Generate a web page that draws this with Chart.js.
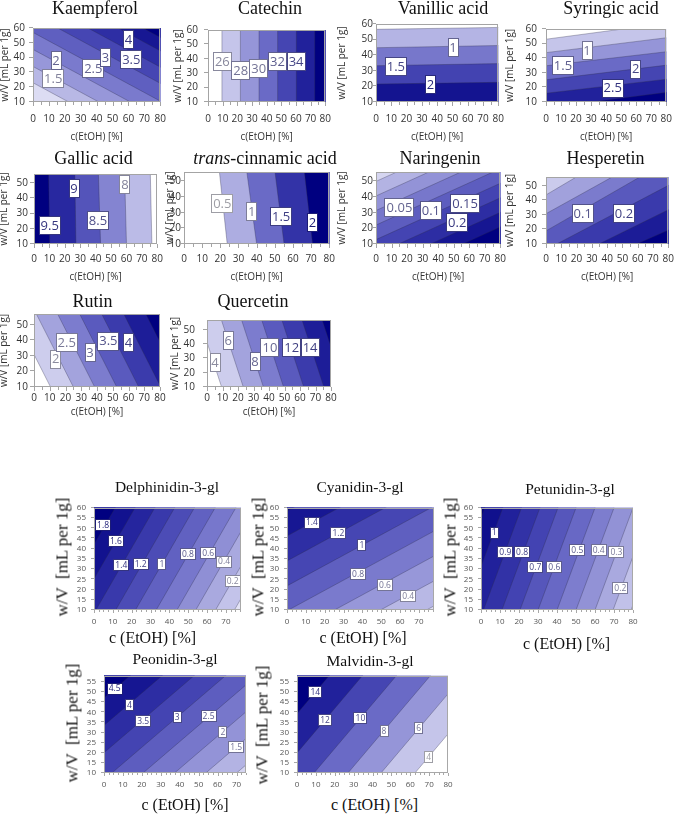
<!DOCTYPE html>
<html>
<head>
<meta charset="utf-8">
<title>Response surfaces - c(EtOH) vs w/V</title>
<script src="https://cdn.jsdelivr.net/npm/chart.js@4.4.1/dist/chart.umd.min.js"></script>
<style>
  body { margin: 0; background: #fff; }
  #page { position: relative; width: 677px; height: 814px; overflow: hidden; }
  canvas { position: absolute; }
  .ttl { position: absolute; transform: translate(-50%, -50%); font-family: "Liberation Serif", "Times New Roman", serif;
         color: #111; white-space: pre; line-height: 1; }
  .rot { transform: translate(-50%, -50%) rotate(-90deg); }
</style>
</head>
<body>
<div id="page"></div>
<script>
// Contours are straight segments [c1, w1, c2, w2] in data units (c(EtOH) %, w/V mL per 1g),
// listed from the light side of the map to the dark side. Labels: [text, c, w].

const KAEMPFEROL_LINES = [[0,23,80,-23.4],[0,34,80,-12.4],[0,45.5,80,-0.9],[0,57,80,10.6],[0,69,80,22.6],[0,80,80,33.6],[0,91,80,44.6],[0,100,80,53.6]];
const KAEMPFEROL_LABELS = [['1.5',12.7,26],['2',14.5,38],['2.5',37.9,32.4],['3',45.5,40],['3.5',61.8,38.8],['4',60,52.3]];

const CATECHIN_LINES = [[9.5,10,9.5,60],[22.1,10,22.1,60],[34.8,10,34.8,60],[47.5,10,47.5,60],[60.3,10,60.3,60],[72.8,10,72.8,60]];
const CATECHIN_LABELS = [['26',9.8,38.2],['28',22.3,31.8],['30',34.6,33.4],['32',47.4,38],['34',60.1,38]];

const VANILLIC_LINES = [[0,56.6,80,57.8],[0,44.8,80,46.2],[0,33.3,80,34.6],[0,21.5,80,22.6]];
const VANILLIC_LABELS = [['1',50.4,45],['1.5',13,32.6],['2',35.7,21]];

const SYRINGIC_LINES = [[0,53,80,64],[0,43.8,80,54],[0,34.8,80,44.4],[0,25.2,80,35.2],[0,16,80,25.6],[0,6,80,16.6]];
const SYRINGIC_LABELS = [['1',27.3,45.4],['1.5',11.3,34.8],['2',59.7,32.6],['2.5',44.4,19.4]];

const GALLIC_LINES = [[76.5,10,75.5,56],[60,10,58.8,56],[43.2,10,41.8,56],[27.2,10,26.5,56],[10.2,10,9.5,56]];
const GALLIC_LABELS = [['9.5',10.2,22.2],['9',26,46.6],['8.5',41.5,25.4],['8',59,49.2]];

const CINNAMIC_LINES = [[23.8,10,19.5,56],[40,10,34.6,56],[55.1,10,50.1,56],[70.8,10,66.3,56]];
const CINNAMIC_LABELS = [['0.5',21.1,35.7],['1',37.3,30.7],['1.5',53.5,27.6],['2',70.8,23.5]];

const NARINGENIN_LINES = [[0,50,80,86],[0,40.7,80,76.7],[0,31.4,80,67.4],[0,22.1,80,58.1],[0,12.8,80,48.8],[0,3.5,80,39.5],[0,-5.8,80,30.2],[0,-15.1,80,20.9]];
const NARINGENIN_LABELS = [['0.05',15.1,33.2],['0.1',35.3,31.4],['0.15',57.3,35.8],['0.2',52.3,23.5]];

const HESPERETIN_LINES = [[0,43.7,19.8,56],[0,30.8,43.3,56],[0,19,61.4,56],[7,10,80,50.2],[34.6,10,80,33.5],[59.3,10,80,19.5]];
const HESPERETIN_LABELS = [['0.1',24,30.8],['0.2',51,30.8]];

const RUTIN_LINES = [[-13,57,10.5,10],[1.5,57,25,10],[15,57,38.5,10],[29,57,52.5,10],[43,57,66.5,10],[57,57,80.5,10],[71,57,94.5,10]];
const RUTIN_LABELS = [['2',13.8,28],['2.5',20.8,38.5],['3',35.6,32],['3.5',47.2,39.6],['4',59.9,38.5]];

const QUERCETIN_LINES = [[-4.7,57,9.4,10],[9.3,57,23.4,10],[22.3,57,36.4,10],[35.3,57,49.4,10],[48.3,57,62.4,10],[61.3,57,75.4,10],[74.3,57,88.4,10]];
const QUERCETIN_LABELS = [['4',5.2,27],['6',13.7,42.7],['8',31,28],['10',40.6,37.5],['12',54.6,37.5],['14',66.5,37.5]];

const DELPHINIDIN_LINES = [[74.5,10,105.75,60],[64.5,10,95.75,60],[54,10,85.25,60],[44,10,75.25,60],[33,10,64.25,60],[22,10,53.25,60],[11.5,10,42.75,60],[1,10,32.25,60],[-9.5,10,21.75,60],[-20,10,11.25,60]];
const DELPHINIDIN_LABELS = [['1.8',4.8,51.4],['1.6',11.6,43.9],['1.4',14.5,31.9],['1.2',24.8,32.4],['1',36,32.4],['0.8',49.8,37.3],['0.6',60.6,37.8],['0.4',69,33.7],['0.2',73.6,24.3]];

const CYANIDIN_LINES = [[0,-27,78,12],[0,-14.8,78,24.2],[0,-2.6,78,36.4],[0,9.6,78,48.6],[0,21.8,78,60.8],[0,34,78,73],[0,46.2,78,85.2],[0,58.4,78,97.4]];
const CYANIDIN_LABELS = [['1.4',13.2,52.8],['1.2',27.3,47.5],['1',39.7,41.8],['0.8',37.7,27.7],['0.6',52,22.4],['0.4',64.3,16.7]];

const PETUNIDIN_LINES = [[79,10,99,60],[69.5,10,89.5,60],[60,10,80,60],[50,10,70,60],[40,10,60,60],[30,10,50,60],[20.5,10,40.5,60],[11,10,31,60],[1.3,10,21.3,60],[-8.5,10,11.5,60],[-18,10,2,60]];
const PETUNIDIN_LABELS = [['1',7,47.9],['0.9',12.8,38.3],['0.8',21.6,38.3],['0.7',28.6,31.1],['0.6',38.6,31],['0.5',50.7,39.2],['0.4',61.9,39.2],['0.3',71.3,38.2],['0.2',73.3,20.7]];

const PEONIDIN_LINES = [[0,-46,75,14],[0,-33,75,27],[0,-19.8,75,40.2],[0,-6.5,75,53.5],[0,6.7,75,66.7],[0,20,75,80],[0,33.5,75,93.5],[0,47,75,107]];
const PEONIDIN_LABELS = [['4.5',5.6,51.7],['4',13.4,43.7],['3.5',20.7,35.5],['3',38.7,37.7],['2.5',55.2,38.2],['2',62.8,30.3],['1.5',69.8,23]];

const MALVIDIN_LINES = [[62.5,10,106.1,58],[44.5,10,88.1,58],[27,10,70.6,58],[9,10,52.6,58],[-9,10,34.6,58],[-26.6,10,17,58]];
const MALVIDIN_LABELS = [['14',9.7,49.9],['12',14.9,36.3],['10',33.6,37.1],['8',46.1,30.7],['6',64.5,32.3],['4',69.7,17.9]];

const SANS = "'Open Sans', 'Noto Sans', sans-serif";
Chart.defaults.font.family = SANS;

// white -> lavender -> navy
const STOPS = [[0,255,255,255],[0.17,196,196,234],[0.33,150,150,216],[0.5,106,106,198],[0.67,68,68,178],[0.83,34,34,156],[1,0,0,128]];

// top block: Excel-like panels; bottom block: smaller anthocyanin panels
const TOP = [
  { title: 'Kaempferol', tx: 95, ty: 8.3, box: [33,24,165,102], xMax: 80, yMax: 60, lines: KAEMPFEROL_LINES, labels: KAEMPFEROL_LABELS, dark: [80,60], t: [0.1,1], yTitle: 5, xTitle: 137, yPad: 8, xPad: 11 },
  { title: 'Catechin', tx: 270, ty: 8.3, box: [208,24,330,102], xMax: 80, yMax: 60, lines: CATECHIN_LINES, labels: CATECHIN_LABELS, dark: [80,35], t: [0,1], yTitle: 178, xTitle: 137, yPad: 10, xPad: 11 },
  { title: 'Vanillic acid', tx: 443, ty: 8.3, box: [376,24,503,102], xMax: 80, yMax: 60, lines: VANILLIC_LINES, labels: VANILLIC_LABELS, dark: [40,10], t: [0,0.9], yTitle: 342, xTitle: 137, yPad: 3, xPad: 11 },
  { title: 'Syringic acid', tx: 611, ty: 8.3, box: [546,24,671,102], xMax: 80, yMax: 60, lines: SYRINGIC_LINES, labels: SYRINGIC_LABELS, dark: [80,10], t: [0,1], yTitle: 510, xTitle: 137, yPad: 9, xPad: 11 },
  { title: 'Gallic acid', tx: 93.5, ty: 158.3, box: [34,172,160,244], xMax: 80, yMax: 56, lines: GALLIC_LINES, labels: GALLIC_LABELS, dark: [0,30], t: [0,1], yTitle: 4, xTitle: 277, yPad: 6, xPad: 9 },
  { title: '<i>trans</i>-cinnamic acid', tx: 265, ty: 158.3, box: [184,172,332,244], xMax: 80, yMax: 56, lines: CINNAMIC_LINES, labels: CINNAMIC_LABELS, dark: [80,30], t: [0,1], yTitle: 170, xTitle: 277, yPad: 3, xPad: 9 },
  { title: 'Naringenin', tx: 440, ty: 158.3, box: [376,172,503,244], xMax: 80, yMax: 56, lines: NARINGENIN_LINES, labels: NARINGENIN_LABELS, dark: [80,10], t: [0.12,1], yTitle: 342, xTitle: 277, yPad: 3, xPad: 9 },
  { title: 'Hesperetin', tx: 605.5, ty: 158.3, box: [546,172,671,244], xMax: 80, yMax: 56, lines: HESPERETIN_LINES, labels: HESPERETIN_LABELS, dark: [80,10], t: [0.15,1], yTitle: 510, xTitle: 277, yPad: 9, xPad: 9 },
  { title: 'Rutin', tx: 92.5, ty: 300.5, box: [34,312,160,387], xMax: 80, yMax: 57, lines: RUTIN_LINES, labels: RUTIN_LABELS, dark: [80,57], t: [0,1], yTitle: 4, xTitle: 412, yPad: 6, xPad: 5 },
  { title: 'Quercetin', tx: 253, ty: 300.5, box: [207,312,331,387], xMax: 80, yMax: 57, lines: QUERCETIN_LINES, labels: QUERCETIN_LABELS, dark: [80,57], t: [0,1], yTitle: 175, xTitle: 412, yPad: 12, xPad: 5 }
];

const BOTTOM = [
  { title: 'Delphinidin-3-gl', tx: 167, ty: 487, box: [94,505,241,610], xMax: 78, yMax: 60, lines: DELPHINIDIN_LINES, labels: DELPHINIDIN_LABELS, dark: [0,60], t: [0.08,1], yT: [62,557], xT: [152.5,638] },
  { title: 'Cyanidin-3-gl', tx: 360, ty: 487, box: [287,505,434,610], xMax: 78, yMax: 60, lines: CYANIDIN_LINES, labels: CYANIDIN_LABELS, dark: [0,60], t: [0.1,1], yT: [258,557], xT: [363,638] },
  { title: 'Petunidin-3-gl', tx: 570, ty: 489, box: [481,505,633,610], xMax: 80, yMax: 60, lines: PETUNIDIN_LINES, labels: PETUNIDIN_LABELS, dark: [0,60], t: [0.1,1], yT: [450,557], xT: [566.5,644] },
  { title: 'Peonidin-3-gl', tx: 175, ty: 659, box: [104,673,246,773], xMax: 75, yMax: 58, lines: PEONIDIN_LINES, labels: PEONIDIN_LABELS, dark: [0,58], t: [0.12,1], yT: [72,723], xT: [185,805] },
  { title: 'Malvidin-3-gl', tx: 370, ty: 661, box: [297,673,448,773], xMax: 80, yMax: 58, lines: MALVIDIN_LINES, labels: MALVIDIN_LABELS, dark: [0,58], t: [0,1], yT: [262,725], xT: [374.5,805] }
];

const page = document.getElementById('page');

function lerp(a, b, f) { return a + (b - a) * f; }
function bandRGB(t) {
  for (let i = 1; i < STOPS.length; i++) {
    if (t <= STOPS[i][0]) {
      const a = STOPS[i - 1], b = STOPS[i], f = (t - a[0]) / (b[0] - a[0]);
      return [1, 2, 3].map(k => Math.round(lerp(a[k], b[k], f)));
    }
  }
  return STOPS[STOPS.length - 1].slice(1);
}
const rgb = c => `rgb(${c[0]},${c[1]},${c[2]})`;
const side = (l, x, y) => (l[2] - l[0]) * (y - l[1]) - (l[3] - l[1]) * (x - l[0]);

// the part of the plane beyond a contour, on its dark side
function halfPlane(l, dark, K) {
  let dx = l[2] - l[0], dy = l[3] - l[1];
  const len = Math.hypot(dx, dy); dx /= len; dy /= len;
  let nx = -dy, ny = dx;
  if (nx * (dark[0] - l[0]) + ny * (dark[1] - l[1]) < 0) { nx = -nx; ny = -ny; }
  const a = { x: l[0] - dx * K, y: l[1] - dy * K }, b = { x: l[2] + dx * K, y: l[3] + dy * K };
  return [a, b, { x: b.x + nx * K, y: b.y + ny * K }, { x: a.x + nx * K, y: a.y + ny * K }];
}

function addText(html, x, y, size, rot) {
  const d = document.createElement('div');
  d.className = 'ttl' + (rot ? ' rot' : '');
  d.style.left = x + 'px'; d.style.top = y + 'px'; d.style.fontSize = size + 'px';
  d.innerHTML = html;
  page.appendChild(d);
}

const bandBackground = {
  id: 'bandBackground',
  beforeDatasetsDraw(chart, args, o) {
    const { ctx, chartArea: a } = chart;
    ctx.save(); ctx.fillStyle = o.color; ctx.fillRect(a.left, a.top, a.right - a.left, a.bottom - a.top); ctx.restore();
  }
};

const contourLabels = {
  id: 'contourLabels',
  afterDatasetsDraw(chart, args, o) {
    const { ctx, scales: { x, y } } = chart;
    ctx.save();
    ctx.font = o.size + 'px ' + SANS;
    ctx.textAlign = 'center'; ctx.textBaseline = 'middle';
    o.items.forEach(it => {
      const px = x.getPixelForValue(it.c), py = y.getPixelForValue(it.w);
      const w = Math.round(ctx.measureText(it.text).width + o.padX * 2), h = Math.round(o.size + o.padY * 2);
      const l = Math.round(px - w / 2), t = Math.round(py - h / 2);
      ctx.fillStyle = '#fff'; ctx.fillRect(l, t, w, h);
      ctx.strokeStyle = it.color; ctx.lineWidth = 1; ctx.strokeRect(l + 0.5, t + 0.5, w - 1, h - 1);
      ctx.fillStyle = it.color; ctx.fillText(it.text, px, py + 0.5);
    });
    ctx.restore();
  }
};

const frameTicks = {
  id: 'frameTicks',
  afterDraw(chart, args, o) {
    const { ctx, chartArea: a, scales: { x, y } } = chart;
    ctx.save();
    ctx.strokeStyle = o.color; ctx.lineWidth = 1;
    const L = Math.round(a.left), T = Math.round(a.top), R = Math.round(a.right), B = Math.round(a.bottom);
    ctx.strokeRect(L + 0.5, T + 0.5, R - L - 1, B - T - 1);
    ctx.beginPath();
    for (let v = x.min; v <= x.max + 1e-6; v += o.xMinor) {
      const px = Math.round(x.getPixelForValue(v)) + 0.5;
      const major = Math.abs(v / 10 - Math.round(v / 10)) < 1e-6;
      ctx.moveTo(px, B); ctx.lineTo(px, B + (major ? o.len : Math.ceil(o.len * 0.6)));
    }
    y.ticks.forEach(t => {
      const py = Math.round(y.getPixelForValue(t.value)) - 0.5;
      ctx.moveTo(L, py); ctx.lineTo(L - o.len, py);
    });
    ctx.stroke();
    ctx.restore();
  }
};

function buildPanel(p, s) {
  const [pl, pt, pr, pb] = p.box;
  const cl = s.top ? p.yTitle - 8 : pl - 26;
  const ct = pt - 10, cr = pr + 12;
  const cb = s.top ? p.xTitle + 8 : pb + 22;
  const cv = document.createElement('canvas');
  cv.width = cr - cl; cv.height = cb - ct;
  cv.style.left = cl + 'px'; cv.style.top = ct + 'px';
  page.appendChild(cv);

  const n = p.lines.length;
  const tOf = k => p.t[0] + (p.t[1] - p.t[0]) * k / n;
  const datasets = [];
  p.lines.forEach((l, k) => datasets.push({
    data: halfPlane(l, p.dark, 1000), fill: 'shape', backgroundColor: rgb(bandRGB(tOf(k + 1))),
    borderColor: 'rgba(0,0,0,0)', borderWidth: 0, pointRadius: 0, tension: 0, order: 100 - k
  }));
  p.lines.forEach(l => {
    const h = halfPlane(l, p.dark, 300);
    datasets.push({ data: [h[0], h[1]], fill: false, borderColor: 'rgba(45,45,75,0.55)', borderWidth: 0.6, pointRadius: 0, tension: 0, order: 0 });
  });

  const items = p.labels.map(([text, c, w]) => {
    const k = p.lines.filter(l => side(l, c, w) * side(l, p.dark[0], p.dark[1]) > 0).length;
    const t = tOf(k);
    const col = [Math.round(lerp(158, 28, t)), Math.round(lerp(158, 28, t)), Math.round(lerp(165, 118, t))];
    return { text, c, w, color: rgb(col) };
  });

  const tickFont = { family: SANS, size: s.tick };
  new Chart(cv, {
    type: 'line',
    data: { datasets },
    options: {
      responsive: false, animation: false, events: [],
      layout: { padding: { left: 0, top: pt - ct, right: cr - pr, bottom: 0 } },
      plugins: {
        legend: { display: false }, tooltip: { enabled: false },
        bandBackground: { color: rgb(bandRGB(tOf(0))) },
        contourLabels: { items, size: s.lab, padX: s.padX, padY: s.padY },
        frameTicks: { color: s.frame, len: s.len, xMinor: s.xMinor }
      },
      scales: {
        x: {
          type: 'linear', min: 0, max: p.xMax,
          afterFit: sc => { sc.height = cb - pb; },
          grid: { display: false, drawTicks: false }, border: { display: false },
          ticks: { stepSize: 10, includeBounds: false, autoSkip: false, maxRotation: 0, padding: s.top ? p.xPad : 7, color: s.tickColor, font: tickFont },
          title: { display: s.top, text: 'c(EtOH) [%]', color: '#333', font: { family: SANS, size: 10 }, padding: { top: 0, bottom: 2 } }
        },
        y: {
          type: 'linear', min: 10, max: p.yMax,
          afterFit: sc => { sc.width = pl - cl; },
          grid: { display: false, drawTicks: false }, border: { display: false },
          ticks: { stepSize: s.yStep, includeBounds: false, autoSkip: false, padding: s.top ? p.yPad : 8, color: s.tickColor, font: tickFont },
          title: { display: s.top, text: 'w/V [mL per 1g]', color: '#333', font: { family: SANS, size: 10 }, padding: { top: 2, bottom: 0 } }
        }
      }
    },
    plugins: [bandBackground, contourLabels, frameTicks]
  });

  addText(p.title, p.tx, p.ty, s.titleSize);
  if (!s.top) {
    addText('w/V  [mL per 1g]', p.yT[0], p.yT[1], 17, true);
    addText('c (EtOH) [%]', p.xT[0], p.xT[1], 16);
  }
}

const TOP_STYLE = { top: true, tick: 10, tickColor: '#333', lab: 13, padX: 2, padY: 3, frame: '#a4a4a4', len: 4, xMinor: 5, yStep: 10, titleSize: 18 };
const BOTTOM_STYLE = { top: false, tick: 8, tickColor: '#555', lab: 8.5, padX: 2, padY: 1.5, frame: '#a8a8a8', len: 3, xMinor: 2.5, yStep: 5, titleSize: 15.5 };

TOP.forEach(p => buildPanel(p, TOP_STYLE));
BOTTOM.forEach(p => buildPanel(p, BOTTOM_STYLE));
</script>
</body>
</html>
